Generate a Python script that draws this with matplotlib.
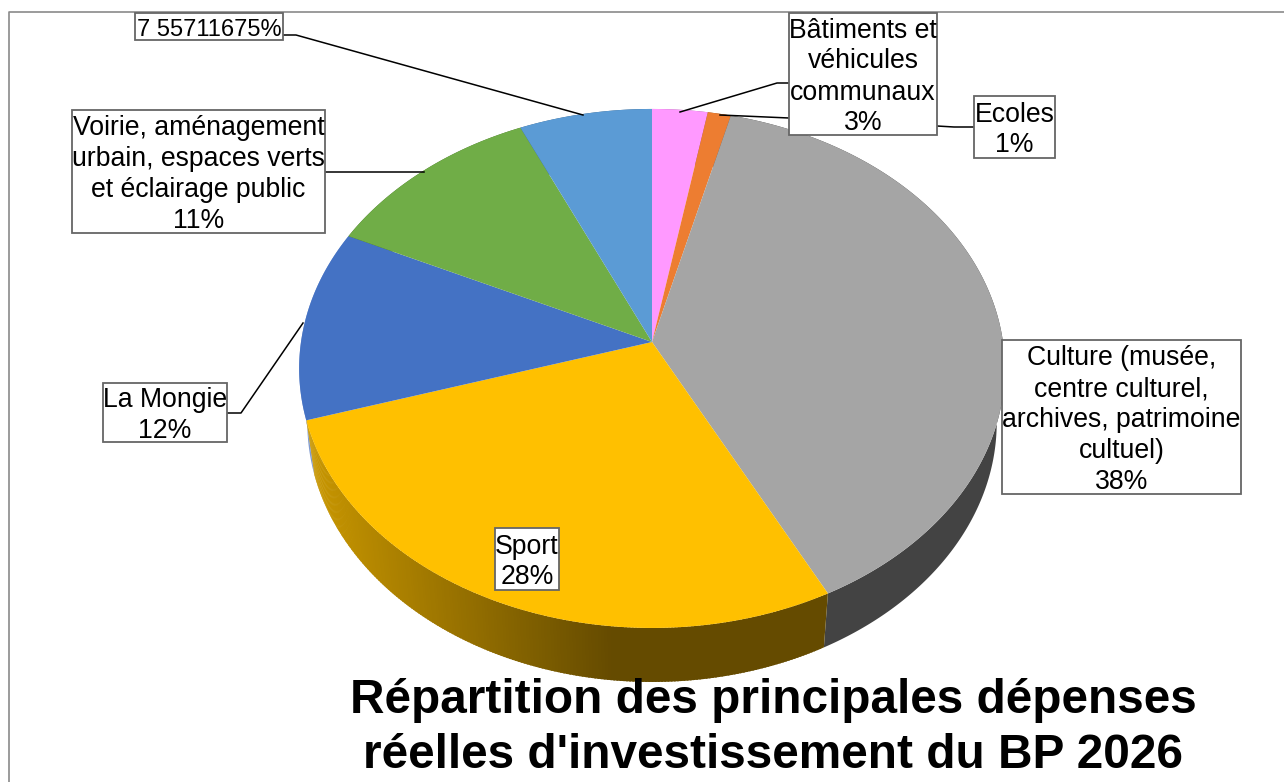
import numpy as np
import matplotlib
matplotlib.use("Agg")
import matplotlib.pyplot as plt
from matplotlib.patches import Rectangle

plt.rcParams["font.family"] = "Liberation Sans"

categories = ["Bâtiments et véhicules communaux", "Ecoles", "Culture", "Sport", "La Mongie", "Voirie", "Autres"]
shares = [2.8, 1.17, 38.5, 27.75, 11.86, 11.2, 6.72]
colors = ["#FF99FF", "#ED7D31", "#A5A5A5", "#FFC000", "#4472C4", "#70AD47", "#5B9BD5"]
wall_colors = ["#99599A", "#8E4B1D", "#434343", "#654B00", "#7F9AD0", "#43682B", "#375D80"]

# label text, box (left, top, right, bottom), font size
labels = [
    ("7 55711675%", (135, 13, 283, 40), 17),
    ("Voirie, aménagement\nurbain, espaces verts\net éclairage public\n11%", (72, 110, 325, 233), 19.2),
    ("La Mongie\n12%", (103, 383, 227, 442), 19.2),
    ("Sport\n28%", (495, 528, 559, 590), 19.2),
    ("Culture (musée,\ncentre culturel,\narchives, patrimoine\ncultuel)\n38%", (1002, 340, 1241, 494), 19.2),
    ("Bâtiments et\nvéhicules\ncommunaux\n3%", (789, 13, 937, 135), 19.2),
    ("Ecoles\n1%", (974, 96, 1055, 158), 19.2),
]
leaders = [
    ([283, 296, 583], [35, 35, 115]),
    ([325, 424], [172, 172]),
    ([227, 241, 303], [413, 413, 323]),
    ([789, 777, 680], [83, 83, 112]),
    ([974, 954, 937], [127, 127, 126]),
    ([789, 720], [118, 115]),
]
title_lines = ["Répartition des principales dépenses", "réelles d'investissement du BP 2026"]

# perspective of the pie plane
CX, CY, A, B, K = 652, 342, 351, 256.8, 0.102
DEPTH, SHRINK = 54, 0.977


def rim(angle, lower=False):
    u, v = np.sin(angle), np.cos(angle)
    w = 1 + K * v
    x, y = A * u / w, CY - B * v / w
    if lower:
        return CX + SHRINK * x, y + DEPTH
    return CX + x, y


def wall_shade(x):
    # sport side gets darker going right
    t = np.clip((x - 305) / 305, 0, 1)
    c0, c1 = np.array([201, 151, 0]), np.array([101, 75, 0])
    return (c0 + (c1 - c0) * t) / 255


fig = plt.figure(figsize=(12.84, 7.82), dpi=100)
ax = fig.add_axes([0, 0, 1, 1])
ax.set_xlim(0, 1284)
ax.set_ylim(782, 0)
ax.axis("off")

# frame, left and top only
ax.plot([9, 9, 1284], [782, 12, 12], color="#8A8A8A", lw=1.2)

edges = np.cumsum([0] + shares) / sum(shares) * 2 * np.pi

# side walls first, the top hides what is behind
for i in range(len(shares)):
    steps = np.linspace(edges[i], edges[i + 1], max(4, int((edges[i + 1] - edges[i]) * 120)))
    if categories[i] == "Sport":
        overlap = (steps[1] - steps[0]) * 0.6
        for a0, a1 in zip(steps[:-1], steps[1:]):
            a1 = min(a1 + overlap, edges[i + 1])
            x0, y0 = rim(a0)
            x1, y1 = rim(a1)
            x2, y2 = rim(a1, True)
            x3, y3 = rim(a0, True)
            ax.fill([x0, x1, x2, x3], [y0, y1, y2, y3], color=wall_shade((x0 + x1) / 2), lw=0, zorder=1)
    else:
        xu, yu = rim(steps)
        xl, yl = rim(steps[::-1], True)
        ax.fill(np.r_[xu, xl], np.r_[yu, yl], color=wall_colors[i], lw=0, zorder=1)

# top of the pie
for i in range(len(shares)):
    steps = np.linspace(edges[i], edges[i + 1], 200)
    xu, yu = rim(steps)
    ax.fill(np.r_[CX, xu], np.r_[CY, yu], color=colors[i], lw=0, zorder=2)

for xs, ys in leaders:
    ax.plot(xs, ys, color="black", lw=1.1, zorder=3)

for text, (l, t, r, b), size in labels:
    ax.add_patch(Rectangle((l, t), r - l, b - t, fc="white", ec="#666666", lw=1.3, zorder=4))
    ax.text((l + r) / 2, (t + b) / 2 + 3, text, ha="center", va="center", fontsize=size,
            linespacing=1.25, color="black", zorder=5)

ax.text(773, 713, title_lines[0], ha="center", va="baseline", fontsize=34.4, fontweight="bold", zorder=5)
ax.text(773, 768, title_lines[1], ha="center", va="baseline", fontsize=34.4, fontweight="bold", zorder=5)

fig.savefig("out.png", dpi=100)
